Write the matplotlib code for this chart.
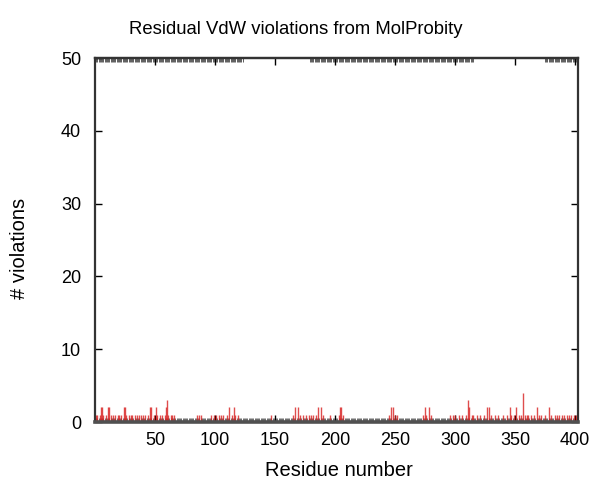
import matplotlib
matplotlib.use("Agg")
import matplotlib.pyplot as plt
import numpy as np

plt.rcParams['font.family'] = ['Liberation Sans', 'DejaVu Sans']

title = "Residual VdW violations from MolProbity"
xlabel = "Residue number"
ylabel = "# violations"

residues = [1, 2, 4, 5, 6, 7, 9, 11, 12, 13, 15, 17, 19, 20, 22, 24, 25, 26, 28, 30,
            31, 33, 35, 37, 38, 40, 42, 44, 46, 47, 49, 51, 52, 54, 56, 58, 59, 60, 61, 63,
            64, 66, 85, 87, 88, 97, 99, 101, 103, 105, 107, 110, 112, 114, 116, 117, 119,
            147, 165, 167, 169, 171, 173, 176, 178, 180, 182, 184, 186, 188, 190, 196, 203,
            204, 205, 207, 245, 247, 248, 250, 252, 273, 275, 276, 278, 280, 296, 298, 300,
            303, 306, 309, 311, 312, 314, 315, 318, 321, 324, 327, 328, 330, 333, 336, 340,
            343, 346, 347, 349, 351, 353, 355, 357, 358, 360, 361, 363, 366, 368, 370, 372,
            375, 378, 380, 383, 385, 387, 389, 391, 393, 395, 397, 399, 401, 402]
violations = [1, 1, 1, 2, 2, 1, 1, 2, 2, 1, 1, 1, 1, 1, 1, 2, 2, 1, 1, 1,
              1, 1, 1, 1, 1, 1, 1, 1, 2, 2, 1, 2, 1, 1, 1, 1, 2, 3, 1, 1,
              1, 1, 1, 1, 1, 1, 1, 1, 1, 1, 1, 1, 2, 1, 2, 1, 1,
              1, 1, 2, 2, 1, 1, 1, 1, 1, 1, 1, 2, 2, 1, 1, 1,
              2, 2, 1, 1, 2, 2, 1, 1, 1, 2, 1, 2, 1, 1, 1, 1,
              1, 1, 1, 3, 2, 1, 1, 1, 1, 1, 2, 2, 1, 1, 1, 1,
              1, 2, 1, 1, 2, 1, 1, 4, 1, 1, 1, 1, 1, 2, 1, 1,
              1, 2, 1, 1, 1, 1, 1, 1, 1, 1, 1, 1, 1, 1]

x_ticks = [50, 100, 150, 200, 250, 300, 350, 400]
y_ticks = [0, 10, 20, 30, 40, 50]
top_tick_ranges = [(1, 123), (179, 315), (375, 402)]

fig = plt.figure(figsize=(5.92, 4.84), dpi=100)
ax = fig.add_axes([0.1605, 0.128, 0.8159, 0.752])

ax.vlines(residues, 0, violations, color='#d82020', lw=1.0, alpha=0.8, zorder=2)

ax.set_xlim(0, 402.5)
ax.set_ylim(0, 50)
ax.set_xticks(x_ticks)
ax.set_yticks(y_ticks)
ax.set_xticks(np.arange(1, 403), minor=True)
ax.tick_params(axis='both', which='major', direction='in', length=5, width=1.0,
               labelsize=13, colors='black', top=False, right=True)
ax.tick_params(axis='x', which='minor', direction='in', length=3, width=0.6,
               color='#555555', top=False)
ax.tick_params(axis='x', pad=7)
ax.tick_params(axis='y', pad=10)

top = ax.secondary_xaxis('top')
top.set_xticks(x_ticks)
top.set_xticklabels([])
minor_top = np.concatenate([np.arange(a, b + 1) for a, b in top_tick_ranges])
top.set_xticks(minor_top, minor=True)
top.tick_params(which='major', direction='in', length=5, width=1.0)
top.tick_params(which='minor', direction='in', length=3, width=0.6, color='#444444')
top.spines['top'].set_linewidth(1.6)
top.spines['top'].set_color('#333333')

for s in ['left', 'right', 'top']:
    ax.spines[s].set_linewidth(1.6)
    ax.spines[s].set_color('#333333')
ax.spines['bottom'].set_linewidth(2.6)
ax.spines['bottom'].set_color('#505050')

fig.text(0.5, 1 - 30 / 484, title, fontsize=13.3, ha='center', va='center')
fig.text(339 / 592, 1 - 470 / 484, xlabel, fontsize=14.5, ha='center', va='center')
fig.text(20 / 592, 1 - 248 / 484, ylabel, fontsize=14.5, rotation=90, ha='center', va='center')

fig.savefig("out.png", dpi=100)
